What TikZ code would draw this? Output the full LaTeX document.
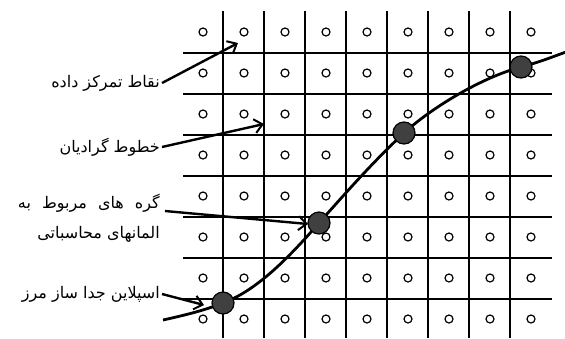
\documentclass[tikz,border=0pt]{standalone}
\usepackage{fontspec}
\usetikzlibrary{arrows.meta}
\newfontfamily\arabicfont[Script=Arabic]{DejaVu Sans}
\TeXXeTstate=1
\begin{document}
\begin{tikzpicture}[x=1pt,y=-1pt,
  gridline/.style={line width=1.3pt,black},
  datapt/.style={circle,draw=black,line width=1.2pt,fill=white,inner sep=0pt,minimum size=8pt},
  bignode/.style={circle,draw=black,line width=1.2pt,fill=black!75,inner sep=0pt,minimum size=22pt},
  lbl/.style={anchor=east,inner sep=2pt,font=\arabicfont\fontsize{16}{19}\selectfont},
  arr/.style={line width=2.4pt,-{Straight Barb[length=8pt,width=14pt,line width=2pt]}},
  spline/.style={line width=2.8pt,black}]
\useasboundingbox (0,0) rectangle (565,338);
% grid
\foreach \x in {223,264,305,346,387,428,469,510}
  \draw[gridline] (\x,11) -- (\x,338);
\foreach \y in {53,94,135,176,217,258,299}
  \draw[gridline] (183,\y) -- (552,\y);
% data points
\foreach \i/\x in {1/203,2/244,3/285,4/326,5/367,6/408,7/449,8/490,9/531}
  \foreach \j/\y in {1/32,2/73,3/114,4/155,5/196,6/237,7/278,8/319}
    \node[datapt] (c-\i-\j) at (\x,\y) {};
% spline
\coordinate (s0) at (163,320);
\coordinate (s5) at (566,52);
\coordinate (p1) at (223,303);
\coordinate (p2) at (319,223);
\coordinate (p3) at (404,133);
\coordinate (p4) at (521,67);
\draw[spline] (s0) .. controls (190,314) and (205,310) .. (p1)
  .. controls (255,291) and (285,262) .. (p2)
  .. controls (350,188) and (375,160) .. (p3)
  .. controls (430,109) and (480,78) .. (p4)
  .. controls (540,62) and (552,57) .. (s5);
\node[bignode] (n1) at (p1) {};
\node[bignode] (n2) at (p2) {};
\node[bignode] (n3) at (p3) {};
\node[bignode] (n4) at (p4) {};
% labels
\node[lbl] (t1) at (162,83) {\beginR نقاط تمرکز داده\endR};
\node[lbl] (t2) at (162,147) {\beginR خطوط گرادیان\endR};
\node[lbl] (t3) at (162,203) {\beginR گره\hspace{6pt} های\hspace{6pt} مربوط\hspace{6pt} به\endR};
\node[lbl] (t3b) at (162,234) {\beginR المانهای محاسباتی\endR};
\node[lbl] (t4) at (162,294) {\beginR اسپلاین جدا ساز مرز\endR};
% arrows
\coordinate (a1) at (238,43);
\coordinate (a2) at (264,124);
\coordinate (a3s) at (165,211);
\coordinate (a3) at (308,224);
\coordinate (a4) at (204,305);
\draw[arr] (t1.east) -- (a1);
\draw[arr] (t2.east) -- (a2);
\draw[arr] (a3s) -- (a3);
\draw[arr] (t4.east) -- (a4);
\end{tikzpicture}
\end{document}
